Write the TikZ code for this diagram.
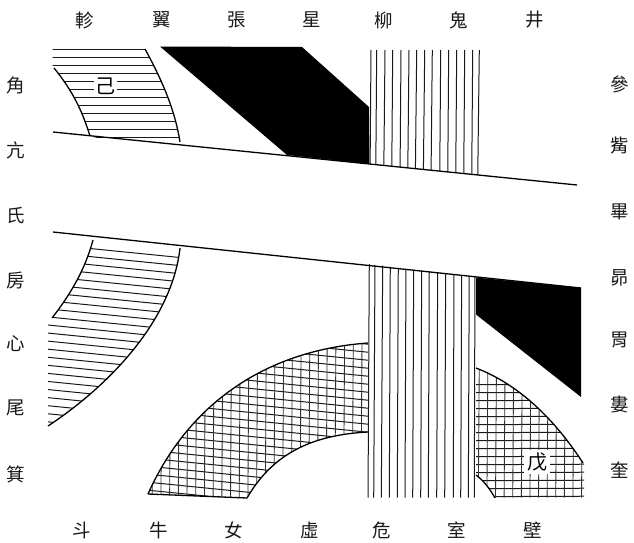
\documentclass[tikz,border=0pt]{standalone}
\usepackage{fontspec}
\newfontfamily\cjk{Noto Sans CJK TC}
\tikzset{
  starname/.style={font=\cjk\fontsize{18.5}{18.5}\selectfont,inner sep=0pt,text=black!90},
  hatch/.style={line width=1pt,black!90},
  thinhatch/.style={line width=0.85pt,black!80},
  outline/.style={line width=1.3pt,black},
  tag/.style={font=\cjk\fontsize{20}{20}\selectfont,fill=white,inner sep=1.5pt}
}
\begin{document}
\begin{tikzpicture}[x=1pt,y=-1pt]
\useasboundingbox (0,0) rectangle (634,543);
% upper left hatched
\begin{scope}
  \clip (52.5,48) -- (145,48) -- (145,49) .. controls (162,80) and (175,110) .. (180,142) -- (180,160) -- (90,136) .. controls (82,110) and (72,90) .. (54,68) -- (52.5,68) -- cycle;
  \foreach \k in {0,...,11} \draw[hatch] (50,49.3+8*\k) -- (190,49.3+8*\k);
\end{scope}
\draw[outline] (145,49) .. controls (162,80) and (175,110) .. (180,142);
\draw[outline] (54,68) .. controls (72,90) and (82,110) .. (90,136);
% lower left hatched
\begin{scope}
  \clip (93,240) .. controls (85,270) and (70,295) .. (52,318) -- (48,318) -- (48,426) .. controls (110,385) and (172,320) .. (180,248) -- cycle;
  \foreach \k in {-12,...,10} \draw[hatch] (40,325.5-8.07*\k-1.3) -- (200,325.5-8.07*\k+14.7);
\end{scope}
\draw[outline] (180,248) .. controls (172,320) and (110,385) .. (48,426);
\draw[outline] (93,240) .. controls (85,270) and (70,295) .. (52,318);
% arch left
\begin{scope}
  \clip (148,494) .. controls (190,400) and (270,350) .. (368,343) -- (368,432) .. controls (310,435) and (272,455) .. (247,498) -- cycle;
  \foreach \k in {-13,...,12} \draw[hatch] (140,408.7+8*\k+8.7) -- (375,408.7+8*\k+32.2);
  \foreach \k in {-5,...,21} \draw[thinhatch] (188+8.7*\k,340) -- (187+8.7*\k,500);
\end{scope}
\draw[outline] (148,494) .. controls (190,400) and (270,350) .. (368,343);
\draw[outline] (368,432) .. controls (310,435) and (272,455) .. (247,498);
\draw[outline] (148,494) -- (247,498);
% arch right
\begin{scope}
  \clip (476,368) .. controls (520,385) and (555,420) .. (583,463) -- (584,463) -- (584,497.5) -- (495,497.5) .. controls (490,489) and (484,481) .. (476,475) -- cycle;
  \foreach \k in {0,...,14} \draw[hatch] (470,384.7+8*\k) -- (590,384.2+8*\k);
  \foreach \k in {0,...,13} \draw[thinhatch] (479.3+8.6*\k,360) -- (478.3+8.6*\k,500);
\end{scope}
\draw[outline] (476,368) .. controls (520,385) and (555,420) .. (583,463);
\draw[outline] (476,475) .. controls (484,481) and (490,489) .. (495,498);
% black regions
\fill[black] (160,46.5) -- (302,47) -- (369,107) -- (369.5,164) -- (287,155) -- cycle;
\fill[black] (476,277.5) -- (581,288) -- (581,397) -- (476,314.5) -- cycle;
% vertical stripes, upper
\begin{scope}
  \clip (360,45) -- (490,45) -- (490,176.2) -- (360,163) -- cycle;
  \foreach \xa/\xb in {371/370,376.7/375.7,385/383.7,392.7/391.7,401/400,409/407.7,416.7/415.3,424.7/423.3,432.3/431,440.7/439.7,448.7/447.7,456.7/455.7,464.7/463.7,472.7/471.7,479.3/477.7}
    \draw[hatch] (\xa,50) -- (\xb,180);
\end{scope}
% vertical stripes, lower
\begin{scope}
  \clip (360,263) -- (490,279) -- (490,497.5) -- (360,497.5) -- cycle;
  \foreach \xa/\xb in {369.3/368,375/373.7,382.7/381.3,390.3/389.3,398.3/397.3,406/405,413.7/412.7,421.7/420.7,429.3/428.3,437.7/436.7,445.7/444.7,454/453.3,461.7/460.7,469.3/468.3,475/474.3}
    \draw[hatch] (\xa,260) -- (\xb,500);
\end{scope}
% the two slanting lines
\coordinate (a1) at (53,132); \coordinate (a2) at (577,185);
\coordinate (b1) at (53,232); \coordinate (b2) at (581,288);
\draw[outline] (a1) -- (a2);
\draw[outline] (b1) -- (b2);
% tags
\node[tag] (ji) at (105,86) {己};
\node[tag,inner sep=3pt] (wu) at (537,462) {戊};
% top row
\foreach \nm/\px/\ch in {t1/85/軫,t2/162/翼,t3/237/張,t4/312/星,t5/384/柳,t6/459/鬼,t7/535/井}
  \node[starname] (\nm) at (\px,20) {\ch};
% bottom row
\foreach \nm/\px/\ch in {b1n/82/斗,b2n/159/牛,b3n/234/女,b4n/310/虛,b5n/382/危,b6n/457/室,b7n/533/壁}
  \node[starname] (\nm) at (\px,530) {\ch};
% left column
\foreach \nm/\py/\ch in {l1/85/角,l2/150/亢,l3/216/氏,l4/281/房,l5/344/心,l6/408/尾,l7/474/箕}
  \node[starname] (\nm) at (16,\py) {\ch};
% right column
\foreach \nm/\py/\ch in {r1/84/參,r2/146/觜,r3/212/畢,r4/278/昴,r5/340/胃,r6/404/婁,r7/470/奎}
  \node[starname] (\nm) at (620,\py) {\ch};
\end{tikzpicture}
\end{document}
